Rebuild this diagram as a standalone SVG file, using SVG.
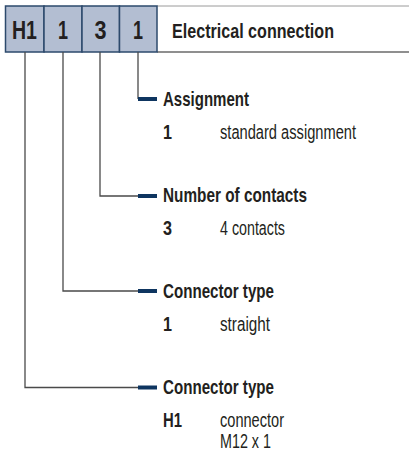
<svg xmlns="http://www.w3.org/2000/svg" width="409" height="456" viewBox="0 0 409 456">
  <style>
    .cell { fill: #b3bed2; stroke: #2d4a6c; stroke-width: 1.5; }
    .code { font-family: "Liberation Sans", Arial, sans-serif; font-weight: bold; font-size: 25px; fill: #231f20; text-anchor: middle; }
    .title { font-family: "Liberation Sans", Arial, sans-serif; font-weight: bold; font-size: 20.5px; fill: #231f20; }
    .head { font-family: "Liberation Sans", Arial, sans-serif; font-weight: bold; font-size: 20.5px; fill: #231f20; }
    .key { font-family: "Liberation Sans", Arial, sans-serif; font-weight: bold; font-size: 20.5px; fill: #231f20; }
    .desc { font-family: "Liberation Sans", Arial, sans-serif; font-size: 20px; fill: #231f20; }
    .wire { fill: none; stroke: #4a4a4a; stroke-width: 1.3; }
    .tick { stroke: #0e3560; stroke-width: 4; }
  </style>

  <!-- header band -->
  <g id="header">
    <line x1="157" y1="6" x2="409" y2="6" stroke="#9a9a9a" stroke-width="1"/>
    <line x1="157" y1="52" x2="409" y2="52" stroke="#8f8f8f" stroke-width="2"/>
    <text class="title" x="172" y="38" textLength="162" lengthAdjust="spacingAndGlyphs">Electrical connection</text>
  </g>

  <g id="cell-h1">
    <rect class="cell" x="5.5" y="6" width="38.5" height="46"/>
    <text class="code" x="24.5" y="38.5" textLength="25" lengthAdjust="spacingAndGlyphs">H1</text>
  </g>
  <g id="cell-type">
    <rect class="cell" x="44" y="6" width="38" height="46"/>
    <text class="code" x="63" y="38.5" textLength="10" lengthAdjust="spacingAndGlyphs">1</text>
  </g>
  <g id="cell-contacts">
    <rect class="cell" x="82" y="6" width="37.5" height="46"/>
    <text class="code" x="100.5" y="38.5" textLength="12" lengthAdjust="spacingAndGlyphs">3</text>
  </g>
  <g id="cell-assignment">
    <rect class="cell" x="119.5" y="6" width="37.5" height="46"/>
    <text class="code" x="138" y="38.5" textLength="10" lengthAdjust="spacingAndGlyphs">1</text>
  </g>

  <!-- connectors -->
  <g id="connectors">
    <path class="wire" d="M138 52 V99"/>
    <path class="wire" d="M100 52 V196 H138"/>
    <path class="wire" d="M63 52 V291 H138"/>
    <path class="wire" d="M25 52 V387.5 H138"/>
    <line class="tick" x1="138" y1="99" x2="157" y2="99"/>
    <line class="tick" x1="138" y1="196" x2="157" y2="196"/>
    <line class="tick" x1="138" y1="291" x2="157" y2="291"/>
    <line class="tick" x1="138" y1="387.5" x2="157" y2="387.5"/>
  </g>

  <g id="item-assignment">
    <text class="head" x="163" y="106" textLength="86" lengthAdjust="spacingAndGlyphs">Assignment</text>
    <text class="key" x="163" y="139" textLength="9" lengthAdjust="spacingAndGlyphs">1</text>
    <text class="desc" x="220" y="139" textLength="136" lengthAdjust="spacingAndGlyphs">standard assignment</text>
  </g>

  <g id="item-contacts">
    <text class="head" x="163" y="202" textLength="144" lengthAdjust="spacingAndGlyphs">Number of contacts</text>
    <text class="key" x="163" y="235" textLength="9" lengthAdjust="spacingAndGlyphs">3</text>
    <text class="desc" x="220" y="235" textLength="65" lengthAdjust="spacingAndGlyphs">4 contacts</text>
  </g>

  <g id="item-connector-type">
    <text class="head" x="163" y="298" textLength="111" lengthAdjust="spacingAndGlyphs">Connector type</text>
    <text class="key" x="163" y="331" textLength="9" lengthAdjust="spacingAndGlyphs">1</text>
    <text class="desc" x="220" y="331" textLength="50" lengthAdjust="spacingAndGlyphs">straight</text>
  </g>

  <g id="item-connector">
    <text class="head" x="163" y="394" textLength="111" lengthAdjust="spacingAndGlyphs">Connector type</text>
    <text class="key" x="163" y="427" textLength="19" lengthAdjust="spacingAndGlyphs">H1</text>
    <text class="desc" x="220" y="427" textLength="64" lengthAdjust="spacingAndGlyphs">connector</text>
    <text class="desc" x="220" y="448" textLength="51" lengthAdjust="spacingAndGlyphs">M12 x 1</text>
  </g>
</svg>
